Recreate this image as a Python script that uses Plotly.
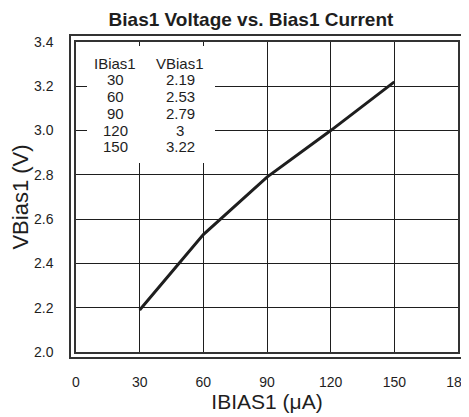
import plotly.graph_objects as go

ibias = [30, 60, 90, 120, 150]
vbias = [2.19, 2.53, 2.79, 3.0, 3.22]
ibias_labels = ["30", "60", "90", "120", "150"]
vbias_labels = ["2.19", "2.53", "2.79", "3", "3.22"]
x_ticks = [0, 30, 60, 90, 120, 150, 180]
y_ticks = [2.0, 2.2, 2.4, 2.6, 2.8, 3.0, 3.2, 3.4]

# page offset (body margin) compensation
OFF = 8
W, H = 469 - OFF, 417 - OFF
# outer frame and plot area in screenshot pixels
OX0, OX1, OY0, OY1 = 71, 464, 36, 357
PX0, PX1, PY0, PY1 = 76, 458, 42, 352
L, R, T, B = OX0 - OFF, (W + OFF) - OX1, OY0 - OFF, (H + OFF) - OY1
ow, oh = OX1 - OX0, OY1 - OY0
FONT = "Liberation Sans, Arial, sans-serif"
DARK = "#1e1e1e"
FRAME = "#333333"


def fx(px):
    return (px - OX0) / ow


def fy(py):
    return 1 - (py - OY0) / oh


fig = go.Figure()
fig.add_trace(go.Scatter(x=ibias, y=vbias, mode="lines",
                         line=dict(color=DARK, width=3), showlegend=False,
                         hoverinfo="skip"))
# empty trace only to create the outer-frame subplot
fig.add_trace(go.Scatter(x=[], y=[], xaxis="x2", yaxis="y2",
                         showlegend=False, hoverinfo="skip"))

annotations = [
    # white box hiding gridlines behind the table
    dict(x=fx(87), y=fy(46), xref="paper", yref="paper", text="",
         showarrow=False, xanchor="left", yanchor="top",
         width=128, height=117, bgcolor="white", borderpad=0,
         borderwidth=0),
]
col1, col2 = fx(115), fx(180)
row0 = 63
step = 16.8
tbl = [dict(x=col1, y=fy(row0), text="IBias1"),
       dict(x=col2, y=fy(row0), text="VBias1")]
for i, (a, b) in enumerate(zip(ibias_labels, vbias_labels)):
    yy = fy(row0 + step * (i + 1))
    tbl.append(dict(x=col1, y=yy, text=a))
    tbl.append(dict(x=col2, y=yy, text=b))
for a in tbl:
    a.update(xref="paper", yref="paper", showarrow=False,
             xanchor="center", yanchor="middle",
             font=dict(family=FONT, size=15, color=DARK))
annotations += tbl

frame_axis = dict(range=[0, 1], showgrid=False, zeroline=False,
                  showticklabels=False, ticks="", showline=True,
                  mirror=True, linecolor=FRAME, linewidth=1.5,
                  domain=[0, 1], fixedrange=True)

fig.update_layout(
    width=W, height=H,
    margin=dict(l=L, r=R, t=T, b=B, autoexpand=False),
    paper_bgcolor="white", plot_bgcolor="rgba(0,0,0,0)",
    font=dict(family=FONT, color=DARK),
    title=dict(text="<b>Bias1 Voltage vs. Bias1 Current</b>",
               x=(251 - OFF) / W, xanchor="center",
               y=1 - (19 - OFF) / H, yanchor="middle",
               font=dict(family=FONT, size=19, color=DARK)),
    annotations=annotations,
    xaxis=dict(range=[0, 180], tickvals=x_ticks,
               ticktext=[str(v) for v in x_ticks],
               domain=[fx(PX0), fx(PX1)], anchor="y",
               showgrid=True, gridcolor=DARK, gridwidth=1,
               zeroline=False, showline=True, mirror=True,
               linecolor=FRAME, linewidth=1.5,
               ticks="outside", ticklen=16, tickcolor="rgba(0,0,0,0)",
               ticklabeloverflow="allow",
               tickfont=dict(family=FONT, size=14, color=DARK),
               automargin=False,
               title=dict(text="IBIAS1 (μA)", standoff=2,
                          font=dict(family=FONT, size=21, color=DARK))),
    yaxis=dict(range=[2.0, 3.4], tickvals=y_ticks,
               ticktext=["%.1f" % v for v in y_ticks],
               domain=[fy(PY1), fy(PY0)], anchor="x",
               showgrid=True, gridcolor=DARK, gridwidth=1,
               zeroline=False, showline=True, mirror=True,
               linecolor=FRAME, linewidth=1.5,
               ticks="outside", ticklen=18, tickcolor="rgba(0,0,0,0)",
               ticklabeloverflow="allow",
               tickfont=dict(family=FONT, size=14, color=DARK),
               automargin=False,
               title=dict(text="VBias1 (V)", standoff=4,
                          font=dict(family=FONT, size=22, color=DARK))),
    xaxis2=dict(frame_axis, anchor="y2"),
    yaxis2=dict(frame_axis, anchor="x2"),
)

fig.write_html("out.html")
